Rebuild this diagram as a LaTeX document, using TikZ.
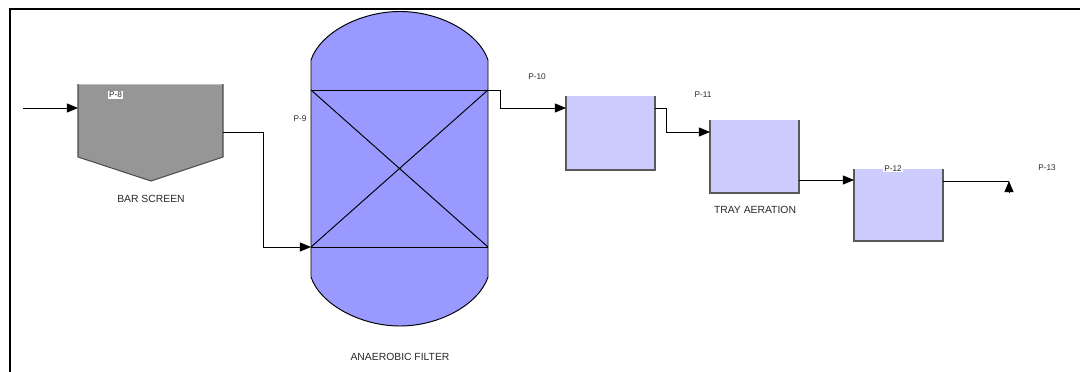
\documentclass[tikz,border=0pt]{standalone}
\usepackage{fontspec}
\setmainfont{Liberation Sans}
\usepackage{tikz}
\usetikzlibrary{arrows.meta,positioning,calc}
\definecolor{cFilter}{RGB}{153,153,255}
\definecolor{cTank}{RGB}{204,204,255}
\definecolor{cScreen}{RGB}{150,150,150}
\definecolor{cLabel}{RGB}{40,40,40}
\tikzset{
  pipe/.style={draw=black,line width=0.55pt,-{Triangle[length=6.4pt,width=5.2pt]}},
  tagtext/.style={font=\fontsize{4.7}{5}\selectfont,text=cLabel,inner sep=0.6pt},
  nametext/.style={font=\fontsize{5.9}{7}\selectfont,text=cLabel,inner sep=0pt},
  tankbody/.style={fill=cTank},
  tankwall/.style={draw=black!65,line width=0.7pt},
}
\begin{document}
\begin{tikzpicture}[x=0.02cm,y=-0.02cm]
  \useasboundingbox (0,0) rectangle (1080,372);
  % frame
  \draw[line width=1.3pt] (10,372) -- (10,9) -- (1080,9);
  % bar screen
  \fill[cScreen] (78,84) -- (223,84) -- (223,157) -- (151,181) -- (78,157) -- cycle;
  \draw[draw=black!25,line width=0.5pt] (78,84) -- (223,84);
  \draw[draw=black!70,line width=0.6pt] (78,84) -- (78,157) -- (151,181) -- (223,157) -- (223,84);
  \coordinate (screenin) at (78,108);
  \coordinate (screenout) at (223,132);
  \coordinate (feed) at (23,108);
  \node[nametext] (screenname) at (151,199) {BAR SCREEN};
  % anaerobic filter
  \filldraw[fill=cFilter,draw=black,line width=0.55pt] (311,60) .. controls (320,33) and (360,11.5) .. (400,11.5)
    .. controls (440,11.5) and (479,33) .. (488,60) -- (488,277)
    .. controls (479,304) and (440,326) .. (400,326)
    .. controls (360,326) and (320,304) .. (311,277) -- cycle;
  \draw[line width=0.55pt] (311,90) -- (488,90) (311,247) -- (488,247);
  \draw[line width=0.55pt] (311,90) -- (488,247) (311,247) -- (488,90);
  \coordinate (filterin) at (311,247);
  \coordinate (filterout) at (488,90);
  \node[nametext] (filtername) at (400,357) {ANAEROBIC FILTER};
  % tanks
  \fill[tankbody] (566,96) rectangle (655,170);
  \draw[tankwall] (566,96) -- (566,170) -- (655,170) -- (655,96);
  \fill[tankbody] (710,120) rectangle (799,193);
  \draw[tankwall] (710,120) -- (710,193) -- (799,193) -- (799,120);
  \fill[tankbody] (854,169) rectangle (943,241);
  \draw[tankwall] (854,169) -- (854,241) -- (943,241) -- (943,169);
  \coordinate (tankAin) at (566,108);
  \coordinate (tankAout) at (655,108);
  \coordinate (tankBin) at (710,132);
  \coordinate (tankBout) at (799,180);
  \coordinate (tankCin) at (854,180);
  \coordinate (tankCout) at (943,181);
  \coordinate (outend) at (1009,193);
  \coordinate (outtip) at (1009,181);
  \node[nametext] (trayname) at (755,210) {TRAY AERATION};
  % pipes
  \draw[pipe] (feed) -- (screenin);
  \draw[pipe] (screenout) -- (263,132) -- (263,247) -- (filterin);
  \draw[pipe] (filterout) -- (500,90) -- (500,108) -- (tankAin);
  \draw[pipe] (tankAout) -- (666,108) -- (666,132) -- (tankBin);
  \draw[pipe] (tankBout) -- (tankCin);
  \draw[draw=black,line width=0.55pt] (tankCout) -- (outtip);
  \draw[pipe] (outend) -- (outtip);
  % stream tags
  \node[tagtext,fill=white] (tagA) at (115.5,95) {P-8};
  \node[tagtext] (tagB) at (300,119) {P-9};
  \node[tagtext] (tagC) at (537,77) {P-10};
  \node[tagtext] (tagD) at (703,95) {P-11};
  \node[tagtext,fill=white] (tagE) at (893,168.5) {P-12};
  \node[tagtext] (tagF) at (1047,168) {P-13};
\end{tikzpicture}
\end{document}
